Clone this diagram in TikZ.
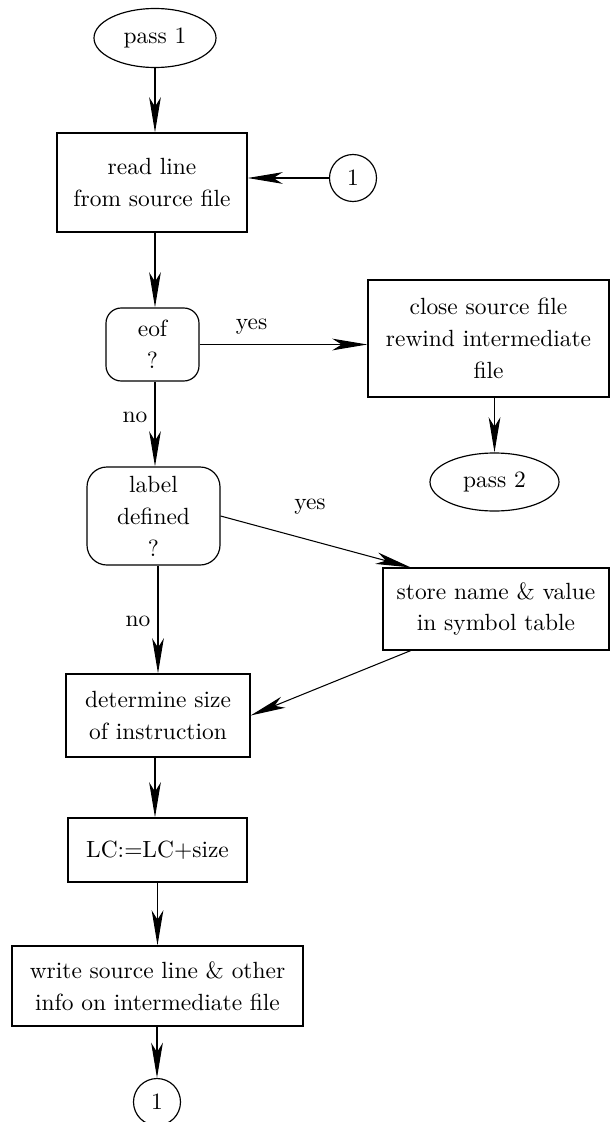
\documentclass[tikz,border=0pt]{standalone}
\usetikzlibrary{shapes.geometric,arrows.meta}
\begin{document}
\begin{tikzpicture}[
  x=0.015cm, y=-0.015cm,
  every node/.style={font=\fontsize{10}{13.6}\selectfont},
  process/.style={draw, line width=0.5pt, align=center, inner sep=0pt},
  decision/.style={process, rounded corners=6.5pt},
  terminal/.style={draw, line width=0.5pt, ellipse, inner sep=0pt},
  connector/.style={draw, line width=0.5pt, circle, inner sep=0pt, minimum size=0.705cm},
  flowarrow/.style={draw, line width=0.45pt, -{Stealth[length=15pt,width=5pt,inset=4pt]}},
  lbl/.style={inner sep=3pt}
]
\useasboundingbox (0,0) rectangle (611,1122);

\node[terminal, minimum width=1.83cm, minimum height=0.885cm] (pass1) at (155,38) {pass 1};
\node[process, minimum width=2.85cm, minimum height=1.485cm] (read) at (152,182.5) {read line\\from source file};
\node[connector] (one1) at (353,178) {1};
\node[decision, minimum width=1.395cm, minimum height=1.095cm] (eof) at (152.5,344.5) {eof\\?};
\node[process, minimum width=3.615cm, minimum height=1.755cm] (close) at (488.5,338.5) {close source file\\rewind intermediate\\file};
\node[terminal, minimum width=1.935cm, minimum height=0.87cm] (pass2) at (494.5,482) {pass 2};
\node[decision, rounded corners=8.5pt, minimum width=1.995cm, minimum height=1.47cm] (labeldef) at (153.5,516) {label\\defined\\?};
\node[process, minimum width=3.39cm, minimum height=1.23cm] (store) at (496,609) {store name \& value\\in symbol table};
\node[process, minimum width=2.76cm, minimum height=1.245cm] (det) at (158,715.5) {determine size\\of instruction};
\node[process, minimum width=2.685cm, minimum height=0.96cm] (LC) at (157.5,850) {LC:=LC+size};
\node[process, minimum width=4.365cm, minimum height=1.2cm] (write) at (157.5,986) {write source line \& other\\info on intermediate file};
\node[connector] (one2) at (157,1102) {1};

\draw[flowarrow] (pass1.south) -- (pass1.south |- read.north);
\draw[flowarrow] (one1.west) -- (read.east |- one1.west);
\foreach \from/\to in {read/eof, det/LC} {
  \draw[flowarrow] (\from.south -| pass1.south) -- (\to.north -| pass1.south);
}
\draw[flowarrow] (eof.east) -- (eof.east -| close.west) node[lbl, above=1pt, pos=0.31] (yes1) {yes};
\draw[flowarrow] (close.south -| pass2.north) -- (pass2.north);
\draw[flowarrow] (eof.south -| pass1.south) -- (labeldef.north -| pass1.south) node[lbl, left, pos=0.42] (no1) {no};
\draw[flowarrow] (labeldef.east) -- (store.154.5) node[lbl, above=8pt, pos=0.47] (yes2) {yes};
\draw[flowarrow] (labeldef.south -| det.north) -- (det.north) node[lbl, left, pos=0.52] (no2) {no};
\draw[flowarrow] (store.206) -- (det.east);
\draw[flowarrow] (LC.south) -- (LC.south |- write.north);
\draw[flowarrow] (write.south -| one2.north) -- (one2.north);
\end{tikzpicture}
\end{document}
